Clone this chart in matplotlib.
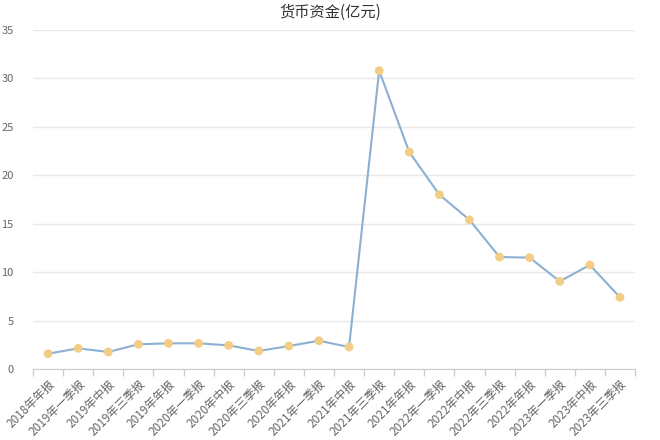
import matplotlib
matplotlib.use("Agg")
import matplotlib.pyplot as plt
from matplotlib.ticker import FixedLocator

plt.rcParams['font.family'] = ['Noto Sans CJK SC', 'DejaVu Sans']

categories = ["2018年年报", "2019年一季报", "2019年中报", "2019年三季报", "2019年年报",
              "2020年一季报", "2020年中报", "2020年三季报", "2020年年报", "2021年一季报",
              "2021年中报", "2021年三季报", "2021年年报", "2022年一季报", "2022年中报",
              "2022年三季报", "2022年年报", "2023年一季报", "2023年中报", "2023年三季报"]
values = [1.58, 2.13, 1.76, 2.55, 2.65, 2.65, 2.44, 1.86, 2.37, 2.92,
          2.27, 30.8, 22.4, 18.0, 15.4, 11.56, 11.5, 9.05, 10.74, 7.4]
yticks = [0, 5, 10, 15, 20, 25, 30, 35]
title = "货币资金(亿元)"

fig = plt.figure(figsize=(6.6, 4.4), dpi=100)
ax = fig.add_axes([33/660, 1 - 369/440, (635-33)/660, (369-30)/440])

x = list(range(len(categories)))
ax.plot(x, values, color='#8cb0d2', linewidth=1.5, zorder=2)
ax.scatter(x, values, s=40, color='#f3cd86', zorder=3, edgecolors='none')

ax.set_xlim(-0.5, len(categories) - 0.5)
ax.set_ylim(0, 35)
ax.set_yticks(yticks)
ax.set_yticklabels([str(v) for v in yticks], color='#666666', fontsize=8)
ax.yaxis.grid(True, color='#e8e8e8', linewidth=1)
ax.set_axisbelow(True)

ax.set_xticks(x)
ax.set_xticklabels(categories, rotation=45, ha='right', rotation_mode='anchor',
                   fontsize=8.5, color='#666666')
ax.xaxis.set_minor_locator(FixedLocator([i - 0.5 for i in range(len(categories) + 1)]))
ax.tick_params(axis='x', which='major', length=0, pad=6)
ax.tick_params(axis='x', which='minor', length=5, color='#cccccc', width=1)
ax.tick_params(axis='y', length=0, pad=14)

for s in ['top', 'right', 'left']:
    ax.spines[s].set_visible(False)
ax.spines['bottom'].set_color('#cccccc')

fig.text(0.5, 1 - 12/440, title, ha='center', va='center', fontsize=11, color='#333333')

fig.savefig('out.png', dpi=100, facecolor='white')
